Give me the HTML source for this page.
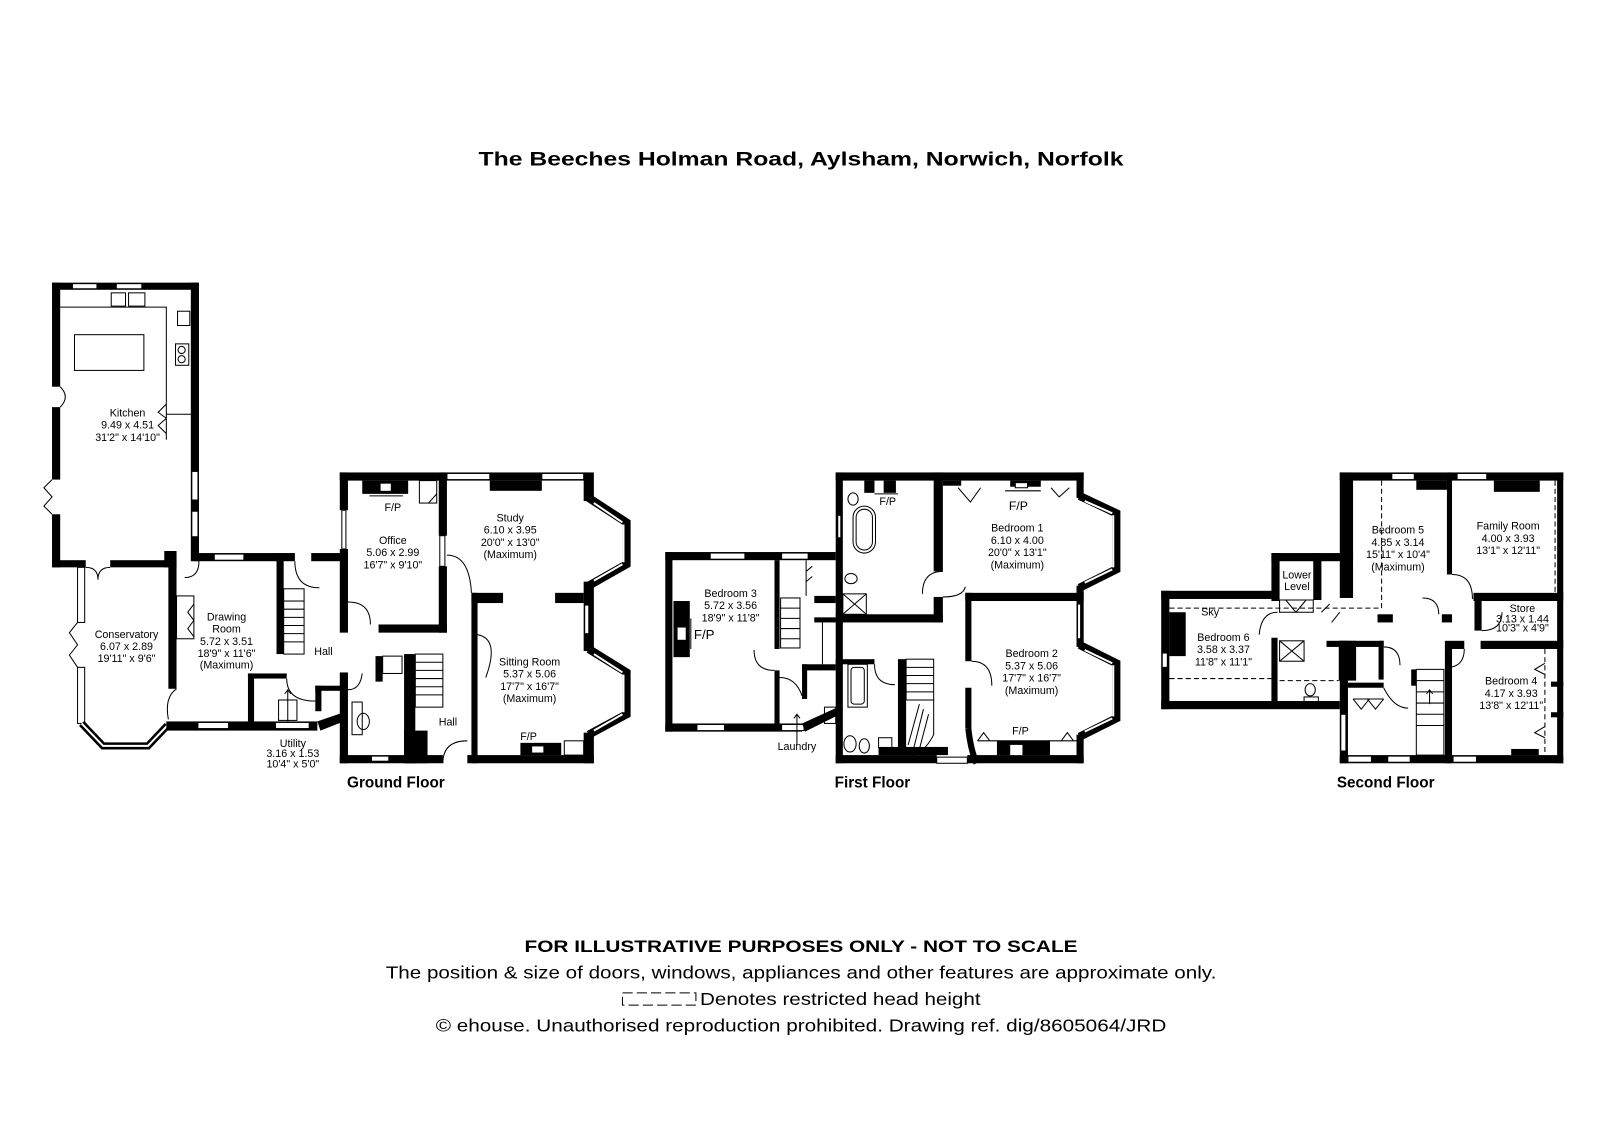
<!DOCTYPE html>
<html><head><meta charset="utf-8"><style>
html,body{margin:0;padding:0;background:#fff;}
svg{display:block;}
text{font-family:"Liberation Sans",sans-serif;fill:#000;}
.l{font-size:10.5px;text-anchor:middle;}
.b{font-weight:bold;}
.w{fill:#000;}
.win{fill:#fff;stroke:#000;stroke-width:1;}
.t{fill:none;stroke:#000;stroke-width:1;}
.d{fill:none;stroke:#000;stroke-width:1;stroke-dasharray:5,3;}
</style></head><body>
<svg width="1600" height="1132" viewBox="0 0 1600 1132" xmlns="http://www.w3.org/2000/svg">
<rect width="1600" height="1132" fill="#fff"/>
<g transform="scale(1.0204)">
<text x="785" y="162" class="b" font-size="19" text-anchor="middle" textLength="632" lengthAdjust="spacingAndGlyphs">The Beeches Holman Road, Aylsham, Norwich, Norfolk</text>

<!-- ================= GROUND FLOOR ================= -->
<!-- Kitchen -->
<rect class="w" x="51" y="277" width="144" height="7"/>
<rect class="win" x="71" y="278" width="24" height="5"/>
<rect class="win" x="114" y="278" width="25" height="5"/>
<rect class="w" x="51" y="277" width="8" height="102"/>
<rect class="w" x="51" y="399" width="8" height="71"/>
<rect class="w" x="51" y="504" width="8" height="52"/>
<rect class="w" x="187" y="277" width="8" height="273"/>
<rect class="win" x="188" y="462" width="6" height="28"/>
<rect class="win" x="188" y="501" width="6" height="25"/>
<rect class="w" x="51" y="549" width="33" height="7"/>
<rect class="w" x="108" y="549" width="65" height="7"/>
<rect class="w" x="161" y="540" width="12" height="16"/>
<path class="t" d="M59 301 H163 V431 M163 406 H187"/>
<rect class="t" x="73" y="328" width="68" height="35"/>
<rect class="t" x="174" y="305" width="12" height="14"/>
<rect class="t" x="172" y="337" width="13" height="21"/>
<circle class="t" cx="178" cy="343" r="3.5"/><circle class="t" cx="178" cy="352" r="3.5"/>
<rect class="t" x="109" y="287" width="14" height="13"/><rect class="t" x="126" y="287" width="16" height="13"/>
<path class="t" d="M163 396 l-8 8 l8 6 l-8 7 l8 8"/>
<path class="t" d="M59 379 q10 10 0 20 M51 470 l-8 8 l8 9 l-8 9 l8 8"/>
<path class="t" d="M84 556 q12 0 12 12 M108 556 q-12 0 -12 12"/>
<!-- Conservatory -->
<rect class="win" x="76" y="556" width="7" height="54"/>
<rect class="win" x="76" y="654" width="7" height="55"/>
<path class="t" d="M76 610 l-8 10 l8 12 l-8 10 l8 12"/>
<path d="M80 709 L101 731 L145 731 L164 711" fill="none" stroke="#000" stroke-width="7"/>
<path d="M80 709 L101 731 L145 731 L164 711" fill="none" stroke="#fff" stroke-width="2"/>
<rect class="w" x="165" y="540" width="8" height="135"/>
<path class="t" d="M173 675 q-12 8 -8 30"/>
<!-- Drawing room -->
<rect class="w" x="190" y="542" width="99" height="8"/>
<rect class="win" x="210" y="543" width="29" height="6"/>
<rect class="w" x="305" y="542" width="36" height="8"/>
<rect class="w" x="271" y="542" width="7" height="99"/>
<rect class="t" x="173" y="584" width="17" height="42"/>
<path class="t" d="M190 592 l-6 8 l6 8 l-6 8 l6 8"/>
<path class="t" d="M195 550 q0 16 -14 16"/>
<rect class="t" x="278" y="577" width="20" height="12"/>
<rect class="t" x="278" y="589" width="20" height="52"/>
<path class="t" d="M278 597 H298 M278 605 H298 M278 613 H298 M278 621 H298 M278 629 H298"/>
<path class="t" d="M289 550 q0 26 24 26"/>
<!-- bottom wall -->
<rect class="w" x="163" y="707" width="148" height="9"/>
<rect class="win" x="194" y="708" width="30" height="6"/>
<rect class="win" x="270" y="708" width="33" height="6"/>
<polygon class="w" points="311,707 337,698 337,707 314,716"/>
<!-- Utility -->
<rect class="w" x="243" y="660" width="38" height="5"/>
<rect class="w" x="243" y="660" width="6" height="52"/>
<rect class="w" x="309" y="672" width="6" height="25"/>
<rect class="w" x="309" y="672" width="28" height="5"/>
<rect class="t" x="273" y="686" width="18" height="20"/>
<path class="t" d="M282 707 V677 M279 680 l3 -4 l3 4"/>
<path class="t" d="M281 665 q0 22 28 22"/>
<!-- Office -->
<rect class="w" x="333" y="463" width="245" height="8"/>
<rect class="w" x="333" y="463" width="8" height="37"/>
<rect class="win" x="335" y="500" width="4" height="38"/>
<rect class="w" x="333" y="538" width="8" height="82"/>
<rect class="w" x="430" y="463" width="8" height="62"/>
<rect class="win" x="431" y="525" width="5" height="30"/>
<rect class="w" x="430" y="555" width="8" height="65"/>
<rect class="w" x="371" y="612" width="67" height="8"/>
<rect class="w" x="355" y="471" width="45" height="13"/>
<rect fill="#fff" x="373" y="474" width="10" height="7"/>
<path class="t" d="M362 486 H395"/>
<rect class="t" x="411" y="471" width="17" height="22"/>
<path class="t" d="M420 493 l8 -9"/>
<path class="t" d="M341 590 q22 0 22 22"/>
<!-- Study / Sitting -->
<rect class="win" x="438" y="464" width="42" height="6"/>
<rect class="w" x="480" y="471" width="51" height="10"/>
<rect class="win" x="531" y="464" width="41" height="6"/>
<rect class="w" x="572" y="463" width="10" height="28"/>
<path d="M577 488 L614 512 L614 553 L577 574" fill="none" stroke="#000" stroke-width="8"/>
<path d="M582 493 L610 512 M611 514 V551 M610 553 L582 569" fill="none" stroke="#fff" stroke-width="2"/>
<rect class="w" x="572" y="570" width="10" height="68"/>
<rect class="win" x="573" y="593" width="4" height="28"/>
<path d="M577 636 L614 659 L614 700 L577 720" fill="none" stroke="#000" stroke-width="8"/>
<path d="M582 641 L610 659 M611 661 V698 M610 700 L582 716" fill="none" stroke="#fff" stroke-width="2"/>
<rect class="w" x="572" y="718" width="10" height="30"/>
<rect class="w" x="462" y="581" width="31" height="10"/>
<rect class="w" x="544" y="581" width="28" height="10"/>
<rect class="w" x="462" y="581" width="6" height="167"/>
<path class="t" d="M438 544 q22 0 24 37 M468 622 q22 4 8 42"/>
<!-- Hall / WC / stairs -->
<rect class="w" x="333" y="659" width="8" height="89"/>
<rect class="w" x="396" y="641" width="11" height="107"/>
<rect class="w" x="396" y="716" width="23" height="32"/>
<rect class="t" x="407" y="641" width="27" height="52"/>
<path class="t" d="M407 649 H434 M407 657 H434 M407 665 H434 M407 673 H434 M407 681 H434"/>
<rect class="w" x="368" y="643" width="7" height="25"/>
<rect class="t" x="375" y="643" width="19" height="17"/>
<rect class="t" x="345" y="688" width="10" height="32"/>
<ellipse class="t" cx="356" cy="707" rx="6" ry="8"/>
<rect class="w" x="333" y="740" width="101" height="8"/>
<rect class="win" x="364" y="741" width="17" height="5"/>
<rect class="w" x="458" y="740" width="124" height="8"/>
<rect class="w" x="510" y="728" width="40" height="12"/>
<rect fill="#fff" stroke="#000" x="521" y="731" width="12" height="7"/>
<rect class="t" x="553" y="726" width="19" height="14"/>
<path class="t" d="M434 748 q0 -22 24 -22 M341 676 q12 0 14 -16"/>
<!-- labels ground -->
<text class="l" x="125" y="408">Kitchen</text>
<text class="l" x="125" y="420">9.49 x 4.51</text>
<text class="l" x="125" y="432">31'2" x 14'10"</text>
<text class="l" x="124" y="625">Conservatory</text>
<text class="l" x="124" y="637">6.07 x 2.89</text>
<text class="l" x="124" y="649">19'11" x 9'6"</text>
<text class="l" x="222" y="608">Drawing</text>
<text class="l" x="222" y="620">Room</text>
<text class="l" x="222" y="632">5.72 x 3.51</text>
<text class="l" x="222" y="644">18'9" x 11'6"</text>
<text class="l" x="222" y="655">(Maximum)</text>
<text class="l" x="317" y="642">Hall</text>
<text class="l" x="287" y="732" font-size="9">Utility</text>
<text class="l" x="287" y="742" font-size="9">3.16 x 1.53</text>
<text class="l" x="287" y="752" font-size="9">10'4" x 5'0"</text>
<text class="l" x="385" y="501">F/P</text>
<text class="l" x="385" y="533">Office</text>
<text class="l" x="385" y="545">5.06 x 2.99</text>
<text class="l" x="385" y="557">16'7" x 9'10"</text>
<text class="l" x="500" y="511">Study</text>
<text class="l" x="500" y="523">6.10 x 3.95</text>
<text class="l" x="500" y="535">20'0" x 13'0"</text>
<text class="l" x="500" y="547">(Maximum)</text>
<text class="l" x="519" y="652">Sitting Room</text>
<text class="l" x="519" y="664">5.37 x 5.06</text>
<text class="l" x="519" y="676">17'7" x 16'7"</text>
<text class="l" x="519" y="688">(Maximum)</text>
<text class="l" x="439" y="711">Hall</text>
<text class="l" x="518" y="725">F/P</text>
<text x="388" y="772" class="b" font-size="15" text-anchor="middle">Ground Floor</text>

<!-- ================= FIRST FLOOR ================= -->
<rect class="w" x="652" y="541" width="167" height="8"/>
<rect class="win" x="696" y="542" width="34" height="6"/>
<rect class="win" x="766" y="542" width="26" height="6"/>
<rect class="w" x="652" y="541" width="7" height="176"/>
<rect class="w" x="652" y="709" width="134" height="8"/>
<rect class="win" x="683" y="710" width="27" height="6"/>
<rect class="win" x="766" y="710" width="22" height="6"/>
<polygon class="w" points="786,709 819,694 819,702 789,717"/>
<rect class="w" x="759" y="549" width="5" height="87"/>
<rect class="w" x="759" y="657" width="5" height="52"/>
<rect class="w" x="660" y="589" width="16" height="55"/>
<rect fill="#fff" x="664" y="615" width="8" height="12"/>
<path class="t" d="M677 606 V636"/>
<rect class="t" x="765" y="586" width="19" height="49"/>
<path class="t" d="M765 596 H784 M765 606 H784 M765 616 H784 M765 626 H784"/>
<rect class="w" x="798" y="584" width="21" height="7"/>
<rect class="w" x="798" y="605" width="21" height="5"/>
<path class="t" d="M806 610 V651 M790 549 V584 M790 560 l6 -5 M790 570 l6 -5"/>
<rect class="w" x="786" y="651" width="33" height="6"/>
<rect class="w" x="786" y="651" width="5" height="34"/>
<path class="t" d="M759 657 q-20 0 -20 -20 M764 664 q16 0 22 18 M781 730 V700 M778 704 l3 -4 l3 4"/>
<rect class="t" x="808" y="693" width="11" height="16"/>
<!-- main block -->
<rect class="w" x="819" y="463" width="243" height="8"/>
<rect class="w" x="819" y="463" width="7" height="285"/>
<rect class="win" x="821" y="505" width="3" height="22"/>
<rect class="w" x="847" y="471" width="10" height="12"/>
<rect class="w" x="866" y="471" width="12" height="12"/>
<path class="t" d="M857 484 H880"/>
<rect class="w" x="915" y="463" width="9" height="97"/>
<rect class="w" x="915" y="585" width="9" height="25"/>
<rect class="w" x="819" y="602" width="105" height="8"/>
<rect class="t" x="836" y="496" width="22" height="46" rx="11"/>
<rect class="t" x="839" y="499" width="16" height="40" rx="8"/>
<ellipse class="t" cx="836" cy="489" rx="5" ry="6"/>
<rect class="t" x="826" y="582" width="23" height="20"/>
<path class="t" d="M826 582 L849 602 M849 582 L826 602"/>
<ellipse class="t" cx="834" cy="567" rx="6" ry="5"/>
<path class="t" d="M924 560 q-20 0 -20 22 M924 585 q20 0 22 -10"/>
<rect class="w" x="924" y="471" width="18" height="5"/>
<rect class="w" x="990" y="471" width="30" height="6"/>
<rect fill="#fff" stroke="#000" x="995" y="473" width="12" height="5"/>
<path class="t" d="M985 481 H1020 M939 478 l12 14 l10 -14 M1030 478 l8 9 l10 -9"/>
<rect class="w" x="1055" y="463" width="7" height="25"/>
<path d="M1058 486 L1094 503 L1094 558 L1058 576" fill="none" stroke="#000" stroke-width="8"/>
<path d="M1063 491 L1090 503 M1091 505 V556 M1090 558 L1063 571" fill="none" stroke="#fff" stroke-width="2"/>
<rect class="w" x="1055" y="574" width="7" height="15"/>
<rect class="w" x="946" y="581" width="116" height="8"/>
<rect class="w" x="946" y="581" width="6" height="67"/>
<rect class="w" x="946" y="674" width="6" height="40"/>
<path d="M949 714 q2 20 8 34" stroke="#000" stroke-width="6" fill="none"/>
<path class="t" d="M952 648 q20 0 20 24"/>
<rect class="w" x="1055" y="589" width="7" height="45"/>
<rect class="win" x="1056" y="592" width="3" height="34"/>
<path d="M1058 632 L1094 650 L1094 704 L1058 722" fill="none" stroke="#000" stroke-width="8"/>
<path d="M1063 637 L1090 650 M1091 652 V702 M1090 704 L1063 717" fill="none" stroke="#fff" stroke-width="2"/>
<rect class="w" x="1055" y="720" width="7" height="28"/>
<rect class="w" x="819" y="740" width="99" height="8"/>
<rect class="win" x="918" y="742" width="30" height="6"/>
<rect class="w" x="948" y="740" width="114" height="8"/>
<rect class="w" x="977" y="726" width="52" height="14"/>
<rect fill="#fff" x="990" y="730" width="12" height="10"/>
<path class="t" d="M958 726 H1055 M958 726 l6 -8 l6 8 M1040 726 l6 -8 l6 8"/>
<rect class="w" x="819" y="646" width="38" height="5"/>
<rect class="t" x="831" y="651" width="19" height="42"/>
<rect class="t" x="834" y="654" width="13" height="36" rx="3"/>
<rect class="w" x="880" y="646" width="8" height="94"/>
<rect class="t" x="888" y="646" width="27" height="40"/>
<path class="t" d="M888 654 H915 M888 662 H915 M888 670 H915 M888 678 H915 M888 686 H915"/>
<path class="t" d="M888 686 H915 V720 q-10 20 -27 22 M901 690 L890 730 M905 695 L895 735 M910 700 L900 738"/>
<rect class="w" x="861" y="732" width="68" height="8"/>
<ellipse class="t" cx="833" cy="729" rx="6" ry="8"/><ellipse class="t" cx="847" cy="731" rx="5" ry="7"/>
<rect class="t" x="861" y="723" width="13" height="10"/>
<path class="t" d="M857 651 q0 20 20 20"/>
<!-- labels first -->
<text class="l" x="716" y="585">Bedroom 3</text>
<text class="l" x="716" y="597">5.72 x 3.56</text>
<text class="l" x="716" y="609">18'9" x 11'8"</text>
<text x="680" y="626" font-size="13">F/P</text>
<text class="l" x="870" y="495">F/P</text>
<text x="998" y="500" font-size="12" text-anchor="middle">F/P</text>
<text class="l" x="997" y="521">Bedroom 1</text>
<text class="l" x="997" y="533">6.10 x 4.00</text>
<text class="l" x="997" y="545">20'0" x 13'1"</text>
<text class="l" x="997" y="557">(Maximum)</text>
<text class="l" x="1011" y="644">Bedroom 2</text>
<text class="l" x="1011" y="656">5.37 x 5.06</text>
<text class="l" x="1011" y="668">17'7" x 16'7"</text>
<text class="l" x="1011" y="680">(Maximum)</text>
<text class="l" x="1000" y="720">F/P</text>
<text class="l" x="781" y="735">Laundry</text>
<text x="855" y="772" class="b" font-size="15" text-anchor="middle">First Floor</text>

<!-- ================= SECOND FLOOR ================= -->
<rect class="w" x="1313" y="463" width="219" height="8"/>
<rect class="win" x="1364" y="464" width="22" height="6"/>
<rect class="win" x="1428" y="464" width="29" height="6"/>
<rect class="w" x="1388" y="471" width="30" height="9"/>
<rect class="w" x="1464" y="471" width="45" height="11"/>
<rect class="w" x="1526" y="463" width="6" height="285"/>
<rect class="w" x="1313" y="463" width="13" height="123"/>
<rect class="w" x="1418" y="463" width="5" height="100"/>
<rect class="w" x="1413" y="602" width="10" height="8"/>
<rect class="w" x="1350" y="602" width="15" height="8"/>
<path class="t" d="M1423 563 q20 0 20 24 M1410 602 q0 -16 -16 -16"/>
<rect class="w" x="1444" y="581" width="88" height="8"/>
<rect class="w" x="1445" y="589" width="7" height="29"/>
<rect class="w" x="1416" y="628" width="19" height="8"/>
<rect class="w" x="1451" y="628" width="81" height="8"/>
<rect class="w" x="1416" y="636" width="7" height="112"/>
<rect class="w" x="1520" y="668" width="12" height="5"/>
<rect class="w" x="1520" y="698" width="12" height="5"/>
<path class="t" d="M1452 618 q20 0 20 -18 M1435 636 q0 16 -14 18 M1514 650 l-10 6 l10 5 M1514 712 l-10 6 l10 5"/>
<path class="d" d="M1354 471 V596 M1524 471 V581 M1514 636 V740"/>
<!-- bedroom 6 etc -->
<rect class="w" x="1138" y="579" width="114" height="8"/>
<rect class="w" x="1138" y="579" width="8" height="116"/>
<rect class="win" x="1139" y="640" width="5" height="14"/>
<rect class="w" x="1146" y="600" width="16" height="43"/>
<rect class="w" x="1138" y="687" width="175" height="8"/>
<rect class="w" x="1246" y="542" width="80" height="8"/>
<rect class="w" x="1246" y="542" width="8" height="47"/>
<rect class="w" x="1287" y="542" width="8" height="46"/>
<rect class="t" x="1254" y="588" width="33" height="12"/>
<path class="t" d="M1260 588 L1270 600 M1280 588 L1270 600"/>
<rect class="w" x="1246" y="625" width="6" height="62"/>
<path class="t" d="M1252 600 q-16 0 -18 22 M1295 600 l8 -8 M1305 610 l8 -10"/>
<rect class="t" x="1254" y="628" width="24" height="20"/>
<path class="t" d="M1254 628 L1278 648 M1278 628 L1254 648"/>
<ellipse class="t" cx="1284" cy="676" rx="5" ry="6"/>
<rect class="t" x="1278" y="683" width="14" height="8"/>
<rect class="w" x="1300" y="628" width="56" height="6"/>
<rect class="w" x="1312" y="628" width="17" height="39"/>
<rect class="t" x="1313" y="637" width="6" height="10"/>
<rect class="w" x="1351" y="628" width="5" height="38"/>
<rect class="w" x="1313" y="628" width="8" height="120"/>
<rect class="win" x="1314" y="700" width="5" height="36"/>
<rect class="w" x="1321" y="669" width="35" height="5"/>
<path class="t" d="M1326 685 H1356 M1326 685 l8 10 l8 -10 M1340 685 l8 10 l8 -10 M1356 634 q16 0 16 18 M1356 674 q10 20 24 20"/>
<rect class="w" x="1383" y="656" width="5" height="16"/>
<rect class="t" x="1388" y="656" width="27" height="84"/>
<path class="t" d="M1388 667 H1415 M1388 678 H1415 M1388 689 H1415 M1388 700 H1415 M1388 711 H1415 M1401 690 V676 M1398 680 l3 -4 l3 4"/>
<path class="d" d="M1146 596 H1354 M1146 665 H1246 M1254 667 H1312"/>
<rect class="w" x="1313" y="740" width="219" height="8"/>
<rect class="win" x="1321" y="741" width="23" height="6"/>
<rect class="win" x="1360" y="741" width="22" height="6"/>
<rect class="win" x="1424" y="741" width="23" height="6"/>
<rect class="w" x="1481" y="734" width="27" height="6"/>
<!-- labels second -->
<text class="l" x="1370" y="523">Bedroom 5</text>
<text class="l" x="1370" y="535">4.85 x 3.14</text>
<text class="l" x="1370" y="547">15'11" x 10'4"</text>
<text class="l" x="1370" y="559">(Maximum)</text>
<text class="l" x="1478" y="519">Family Room</text>
<text class="l" x="1478" y="531">4.00 x 3.93</text>
<text class="l" x="1478" y="543">13'1" x 12'11"</text>
<text class="l" x="1492" y="600" font-size="9">Store</text>
<text class="l" x="1492" y="610" font-size="9">3.13 x 1.44</text>
<text class="l" x="1492" y="619" font-size="9">10'3" x 4'9"</text>
<text class="l" x="1481" y="671">Bedroom 4</text>
<text class="l" x="1481" y="683">4.17 x 3.93</text>
<text class="l" x="1481" y="695">13'8" x 12'11"</text>
<text class="l" x="1186" y="603">Sky</text>
<text class="l" x="1199" y="628">Bedroom 6</text>
<text class="l" x="1199" y="640">3.58 x 3.37</text>
<text class="l" x="1199" y="652">11'8" x 11'1"</text>
<text class="l" x="1271" y="567">Lower</text>
<text class="l" x="1271" y="578">Level</text>
<text x="1358" y="772" class="b" font-size="15" text-anchor="middle">Second Floor</text>

<!-- ================= FOOTER ================= -->
<text x="785" y="933" class="b" font-size="16" text-anchor="middle" textLength="542" lengthAdjust="spacingAndGlyphs">FOR ILLUSTRATIVE PURPOSES ONLY - NOT TO SCALE</text>
<text x="785" y="959" font-size="17" text-anchor="middle" textLength="814" lengthAdjust="spacingAndGlyphs">The position &amp; size of doors, windows, appliances and other features are approximate only.</text>
<rect x="610" y="973" width="72" height="12" fill="none" stroke="#000" stroke-width="1" stroke-dasharray="10,4"/>
<text x="686" y="985" font-size="17" textLength="275" lengthAdjust="spacingAndGlyphs">Denotes restricted head height</text>
<text x="785" y="1011" font-size="17" text-anchor="middle" textLength="716" lengthAdjust="spacingAndGlyphs">© ehouse. Unauthorised reproduction prohibited. Drawing ref. dig/8605064/JRD</text>
</g>
</svg>
</body></html>
